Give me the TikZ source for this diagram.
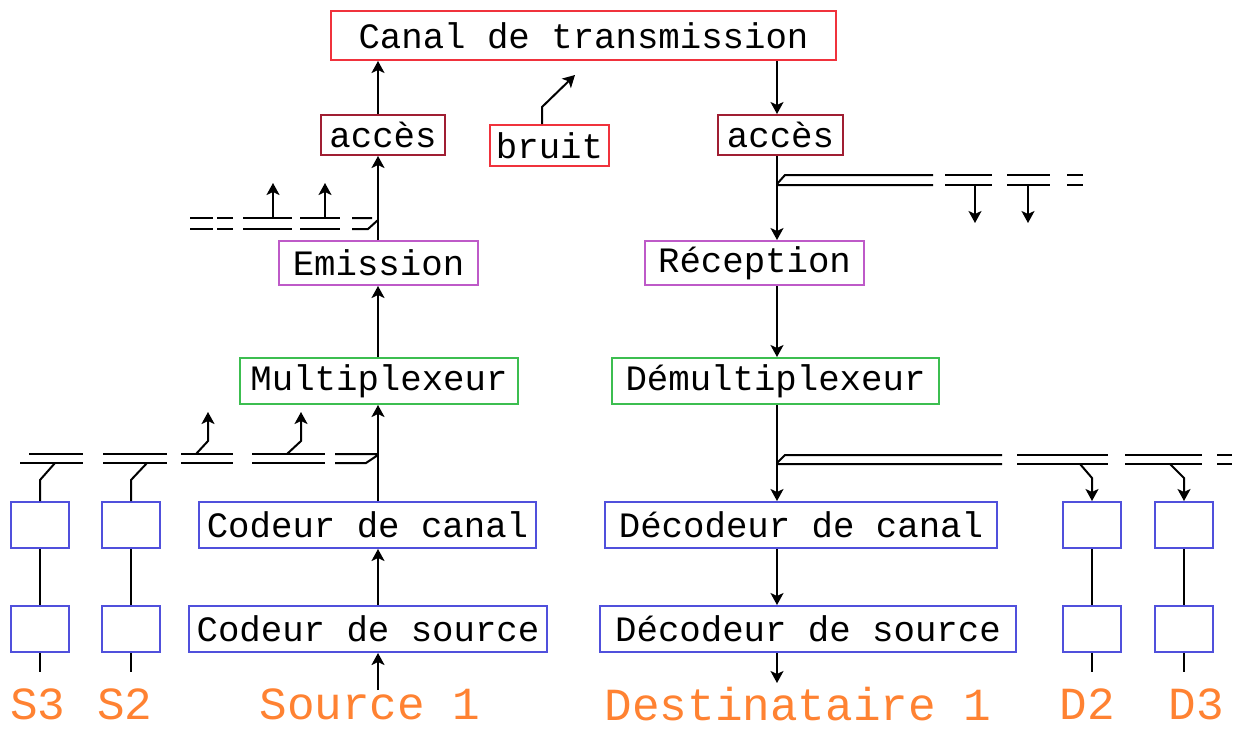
\documentclass[tikz,border=0pt]{standalone}
\usepackage{fontspec}
\usetikzlibrary{arrows.meta, positioning}
\newfontfamily\boxfont{Liberation Mono}
\definecolor{canalred}{RGB}{240,50,60}
\definecolor{accred}{RGB}{160,30,50}
\definecolor{emviolet}{RGB}{190,90,200}
\definecolor{muxgreen}{RGB}{60,190,80}
\definecolor{codblue}{RGB}{80,80,220}
\definecolor{srcorange}{RGB}{255,130,50}

\begin{document}
\begin{tikzpicture}[
    x=1pt, y=-1pt,
    block/.style={rectangle, draw, line width=2pt, inner sep=0pt, font=\boxfont\fontsize{35.7pt}{40pt}\selectfont},
    small/.style={block, draw=codblue, minimum width=58pt, minimum height=46pt},
    tag/.style={text=srcorange, inner sep=0pt, font=\boxfont\fontsize{46pt}{50pt}\selectfont},
    line/.style={draw, line width=2pt, -{Stealth[length=12pt, width=13pt, inset=3pt]}},
    wire/.style={draw, line width=2pt}
]
\useasboundingbox (0,0) rectangle (1236,729);

% blocks
\node [block, draw=canalred, minimum width=505pt, minimum height=49pt] (canal) at (583.5,35.5) {Canal de transmission};
\node [block, draw=accred, minimum width=124pt, minimum height=40pt] (accesL) at (383,135) {accès};
\node [block, draw=canalred, minimum width=119pt, minimum height=41pt] (bruit) at (549.5,145.5) {bruit};
\node [block, draw=accred, minimum width=125pt, minimum height=40pt] (accesR) at (780.5,135) {accès};
\node [block, draw=emviolet, minimum width=199pt, minimum height=44pt] (emission) at (378.5,263) {Emission};
\node [block, draw=emviolet, minimum width=219pt, minimum height=44pt] (reception) at (754.5,263) {Réception};
\node [block, draw=muxgreen, minimum width=278pt, minimum height=46pt] (mux) at (379,381) {Multiplexeur};
\node [block, draw=muxgreen, minimum width=327pt, minimum height=46pt] (demux) at (775.5,381) {Démultiplexeur};
\node [block, draw=codblue, minimum width=337pt, minimum height=46pt] (codcan) at (367.5,525) {Codeur de canal};
\node [block, draw=codblue, minimum width=392pt, minimum height=46pt] (decodcan) at (801,525) {Décodeur de canal};
\node [block, draw=codblue, minimum width=358pt, minimum height=46pt] (codsrc) at (368,629) {Codeur de source};
\node [block, draw=codblue, minimum width=416pt, minimum height=46pt] (decodsrc) at (808,629) {Décodeur de source};

% side channels
\node [small] (s3a) at (40,525) {};
\node [small] (s3b) at (40,629) {};
\node [small] (s2a) at (131,525) {};
\node [small] (s2b) at (131,629) {};
\node [small] (d2a) at (1092,525) {};
\node [small] (d2b) at (1092,629) {};
\node [small] (d3a) at (1184,525) {};
\node [small] (d3b) at (1184,629) {};

% labels
\node [tag] (s3) at (38,704) {S3};
\node [tag] (s2) at (125,704) {S2};
\node [tag] (src) at (370,704) {Source 1};
\node [tag] (dest) at (798,704) {Destinataire 1};
\node [tag] (d2) at (1087,704) {D2};
\node [tag] (d3) at (1196,704) {D3};

\coordinate (mainL) at (378,0);
\coordinate (mainR) at (777,0);
\coordinate (srcin) at (378,690);
\coordinate (destout) at (777,683);
\coordinate (s3out) at (40,672);
\coordinate (s2out) at (131,672);
\coordinate (d2out) at (1092,672);
\coordinate (d3out) at (1184,672);
\coordinate (noise) at (575,75);

% main chain
\path [line] (srcin) -- (codsrc.south -| mainL);
\path [line] (codsrc.north -| mainL) -- (codcan.south -| mainL);
\path [line] (codcan.north -| mainL) -- (mux.south -| mainL);
\path [line] (mux.north -| mainL) -- (emission.south -| mainL);
\path [line] (emission.north -| mainL) -- (accesL.south -| mainL);
\path [line] (accesL.north -| mainL) -- (canal.south -| mainL);
\path [line] (canal.south -| mainR) -- (accesR.north -| mainR);
\path [line] (accesR.south -| mainR) -- (reception.north -| mainR);
\path [line] (reception.south -| mainR) -- (demux.north -| mainR);
\path [line] (demux.south -| mainR) -- (decodcan.north -| mainR);
\path [line] (decodcan.south -| mainR) -- (decodsrc.north -| mainR);
\path [line] (decodsrc.south -| mainR) -- (destout);
\path [line] (bruit.north -| 542,0) -- (542,107) -- (noise);

% side chains
\path [wire] (s3a) -- (s3b) (s3b) -- (s3out);
\path [wire] (s2a) -- (s2b) (s2b) -- (s2out);
\path [wire] (d2a) -- (d2b) (d2b) -- (d2out);
\path [wire] (d3a) -- (d3b) (d3b) -- (d3out);
\path [wire] (s3a) -- (40,480) -- (55,463);
\path [wire] (s2a) -- (131,480) -- (147,463);
\path [line] (1080,464) -- (1092,478) -- (d2a);
\path [line] (1170,464) -- (1184,478) -- (d3a);

% lower left bus
\path [wire] (29,454) -- (83,454) (20,463) -- (83,463);
\path [wire] (103,454) -- (167,454) (103,463) -- (167,463);
\path [wire] (181,454) -- (233,454) (181,463) -- (233,463);
\path [wire] (252,454) -- (325,454) (252,463) -- (325,463);
\path [wire] (335,454) -- (378,454) (335,463) -- (366,463) -- (378,455);
\path [line] (196,454) -- (208,441) -- (208,412);
\path [line] (287,454) -- (301,441) -- (301,412);

% upper left bus
\path [wire] (190,218) -- (213,218) (190,229) -- (213,229);
\path [wire] (217,218) -- (233,218) (217,229) -- (233,229);
\path [wire] (243,218) -- (292,218) (243,229) -- (292,229);
\path [wire] (300,218) -- (340,218) (300,229) -- (340,229);
\path [wire] (352,218) -- (372,218) (352,229) -- (368,229) -- (378,220);
\path [line] (273,218) -- (273,183);
\path [line] (325,218) -- (325,183);

% upper right bus
\path [wire] (777,184) -- (785,175) -- (933,175) (777,185) -- (933,185);
\path [wire] (945,175) -- (992,175) (945,185) -- (992,185);
\path [wire] (1007,175) -- (1050,175) (1007,185) -- (1050,185);
\path [wire] (1067,175) -- (1083,175) (1067,185) -- (1083,185);
\path [line] (975,185) -- (975,223);
\path [line] (1028,185) -- (1028,223);

% lower right bus
\path [wire] (777,463) -- (785,455) -- (1002,455) (777,464) -- (1002,464);
\path [wire] (1017,455) -- (1108,455) (1017,464) -- (1108,464);
\path [wire] (1125,455) -- (1202,455) (1125,464) -- (1202,464);
\path [wire] (1217,455) -- (1232,455) (1217,464) -- (1232,464);

\end{tikzpicture}
\end{document}
